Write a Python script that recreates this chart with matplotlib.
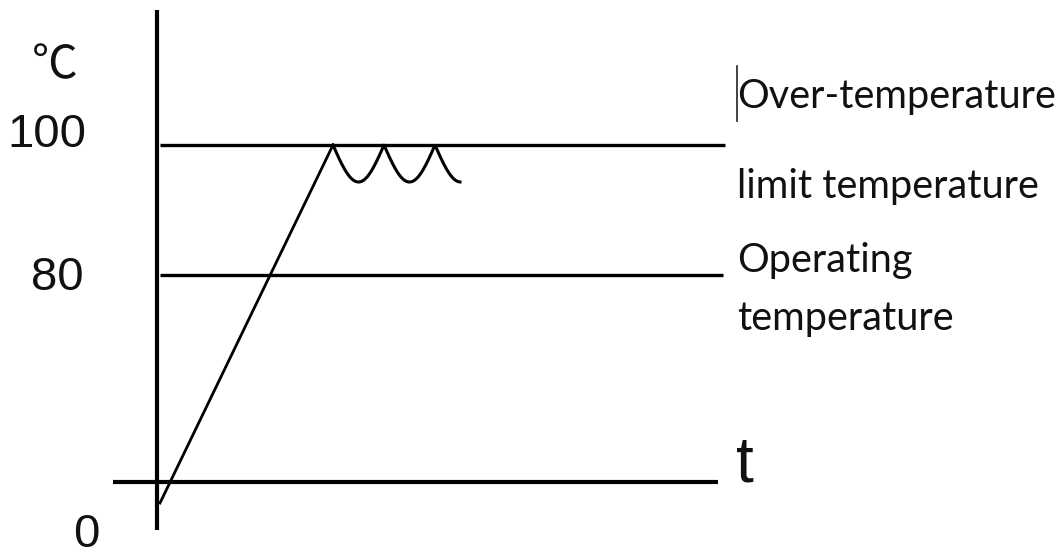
import numpy as np
import matplotlib
matplotlib.use("Agg")
import matplotlib.pyplot as plt

# ---- data (schematic) ----
unit_label = "℃"
temp_ticks = ["0", "80", "100"]
time_label = "t"
level_labels = ["Over-temperature", "limit temperature", "Operating", "temperature"]
n_oscillations = 2.5          # half-waves of oscillation around the limit

# ---- layout (diagram coordinates, pixels; y grows downward) ----
W, H = 1059, 556
y_of = {"0": 482, "80": 275, "100": 145}
x_axis = 157
fig = plt.figure(figsize=(W / 100, H / 100), dpi=100)
ax = fig.add_axes([0, 0, 1, 1])
ax.set_xlim(0, W)
ax.set_ylim(H, 0)
ax.axis("off")

k = "black"
# axes
ax.plot([x_axis, x_axis], [10, 530], color=k, lw=3.0, solid_capstyle="butt")
ax.plot([113, 718], [y_of["0"], y_of["0"]], color=k, lw=3.0, solid_capstyle="butt")
# level lines
ax.plot([160, 725], [y_of["100"], y_of["100"]], color=k, lw=2.4, solid_capstyle="butt")
ax.plot([160, 723], [y_of["80"], y_of["80"]], color=k, lw=2.4, solid_capstyle="butt")

# ramp
x_peak = 333
ax.plot([160, x_peak], [503, y_of["100"]], color=k, lw=2.0)
# oscillation
period = 51
xs = np.linspace(x_peak, x_peak + period * n_oscillations - 0.5, 400)
ys = y_of["100"] + 37 * np.abs(np.sin(np.pi * (xs - x_peak) / period))
ax.plot(xs, ys, color=k, lw=2.2, solid_joinstyle="round")

# left labels
ax.text(55, 65, unit_label, fontsize=33, ha="center", va="center",
        family=["Noto Sans CJK SC", "DejaVu Sans"], color="#111111")
tick_pos = {"100": (47, 135), "80": (57, 278), "0": (86, 535)}
for lab in temp_ticks:
    x, y = tick_pos[lab]
    ax.text(x, y, lab, fontsize=34, ha="center", va="center",
            family="Liberation Sans", color="#111111")

ax.text(745, 482, time_label, fontsize=46, ha="center", va="baseline",
        family="Liberation Sans", color="#111111")

# right labels
baselines = [108, 198, 272, 330]
for lab, yb in zip(level_labels, baselines):
    ax.text(737, yb, lab, fontsize=28.5, ha="left", va="baseline",
            family="Lato", color="#111111")
# text cursor
ax.plot([737, 737], [66, 121], color="#222222", lw=1.2)

fig.savefig("out.png", dpi=100)
